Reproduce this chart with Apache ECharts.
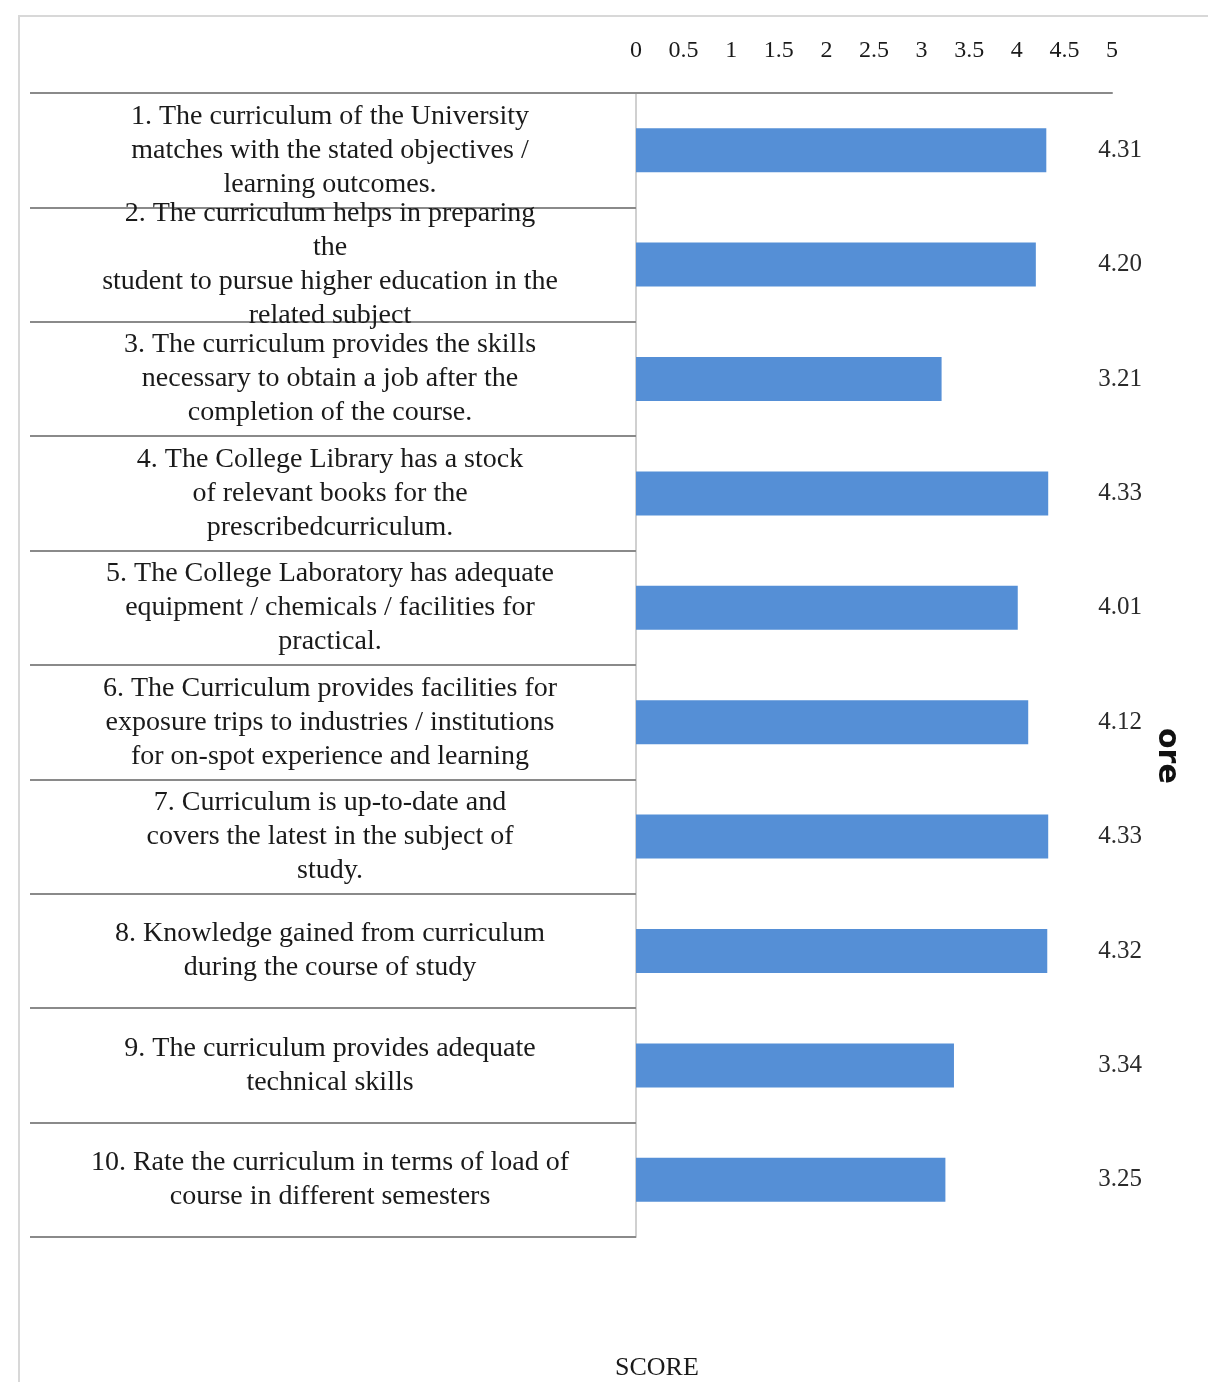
<!DOCTYPE html>
<html>
<head>
<meta charset="utf-8">
<script src="https://cdn.jsdelivr.net/npm/echarts@6/dist/echarts.min.js"></script>
<style>
html,body{margin:0;padding:0;background:#fff;}
#frame{position:absolute;left:18px;top:15px;width:1200px;height:1380px;border-left:2px solid #d8d8d8;border-top:2px solid #d8d8d8;box-sizing:border-box;}
#chart{position:absolute;left:0;top:0;width:1208px;height:1382px;}
</style>
</head>
<body>
<div id="frame"></div>
<div id="chart"></div>
<script>
const categories = [
  "1. The curriculum of the University\nmatches with the stated objectives /\nlearning outcomes.",
  "2. The curriculum helps in preparing\nthe\nstudent to pursue higher education in the\nrelated subject",
  "3. The curriculum provides the skills\nnecessary to obtain a job after the\ncompletion of the course.",
  "4. The College Library has a stock\nof relevant books for the\nprescribedcurriculum.",
  "5. The College Laboratory has adequate\nequipment / chemicals / facilities for\npractical.",
  "6. The Curriculum provides facilities for\nexposure trips to industries / institutions\nfor on-spot experience and learning",
  "7. Curriculum is up-to-date and\ncovers the latest in the subject of\nstudy.",
  "8. Knowledge gained from curriculum\nduring the course of study",
  "9. The curriculum provides adequate\ntechnical skills",
  "10. Rate the curriculum in terms of load of\ncourse in different semesters"
];
const scores = [4.31, 4.20, 3.21, 4.33, 4.01, 4.12, 4.33, 4.32, 3.34, 3.25];
const axisMin = 0, axisMax = 5, axisStep = 0.5;
const axisName = "SCORE";

const chart = echarts.init(document.getElementById('chart'), null, {renderer:'canvas'});
const serif = '"Liberation Serif", "DejaVu Serif", serif';
chart.setOption({
  backgroundColor: 'transparent',
  animation: false,
  title: {
    text: axisName, left: 610, top: 1350,
    textStyle: {fontFamily: serif, fontSize: 26, fontWeight: 'normal', color: '#1a1a1a'}
  },
  grid: {left: 636, right: 96, top: 93, bottom: 145, containLabel: false},
  xAxis: {
    type: 'value', position: 'top', min: axisMin, max: axisMax, interval: axisStep,
    axisLine: {show: true, lineStyle: {color: '#8a8a8a', width: 2}},
    axisTick: {show: false},
    splitLine: {show: false},
    axisLabel: {
      margin: 30, fontFamily: serif, fontSize: 24, color: '#1a1a1a',
      formatter: v => String(v)
    }
  },
  yAxis: [{
    type: 'category', data: categories, inverse: true,
    axisLine: {show: true, lineStyle: {color: '#d0d0d0', width: 2}},
    axisTick: {show: true, length: 606, interval: 0, lineStyle: {color: '#8a8a8a', width: 2}},
    axisLabel: {
      interval: 0, margin: 306, align: 'center', fontFamily: serif, fontSize: 28,
      lineHeight: 34, color: '#1a1a1a'
    }
  }, {
    type: 'category', data: scores.map(v => v.toFixed(2)), inverse: true, position: 'right',
    axisLine: {show: false}, axisTick: {show: false},
    axisLabel: {interval: 0, margin: 8, align: 'center', fontFamily: serif, fontSize: 25, color: '#2a2a2a'}
  }],
  series: [{
    type: 'bar', data: scores, yAxisIndex: 0, barWidth: 44,
    itemStyle: {color: '#558fd6'}
  }],
  graphic: [{
    type: 'text', left: 1152, top: 728, rotation: -Math.PI / 2,
    style: {text: 'ore', font: 'bold 30px "DejaVu Sans", sans-serif', fill: '#111'}
  }]
});
</script>
</body>
</html>
